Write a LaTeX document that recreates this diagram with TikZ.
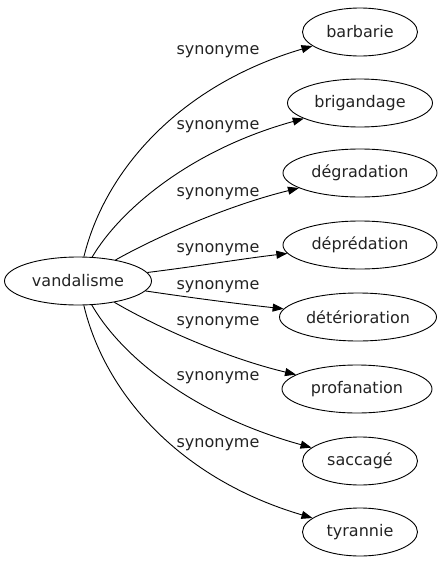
\documentclass[tikz,border=0pt]{standalone}
\usepackage{fontspec}
\setmainfont{DejaVu Sans}
\usetikzlibrary{shapes.geometric,arrows.meta}
\definecolor{txt}{RGB}{35,35,35}
\begin{document}
\begin{tikzpicture}[x=1pt,y=-1pt,
  word/.style={ellipse,draw=black,line width=0.9pt,inner sep=0pt,minimum height=48pt,text=txt,font=\fontsize{16pt}{18pt}\selectfont},
  rel/.style={line width=0.9pt,-{Triangle[length=11pt,width=8pt]}},
  lab/.style={text=txt,inner sep=0pt,font=\fontsize{16pt}{18pt}\selectfont}]
\useasboundingbox (0,0) rectangle (447,563);
\node[word,minimum width=147pt] (v) at (78,281) {vandalisme};
\node[word,minimum width=115pt] (n1) at (360,32) {barbarie};
\node[word,minimum width=145pt] (n2) at (360,103) {brigandage};
\node[word,minimum width=154pt] (n3) at (360,173) {dégradation};
\node[word,minimum width=154pt] (n4) at (360,245) {déprédation};
\node[word,minimum width=157pt] (n5) at (358,317) {détérioration};
\node[word,minimum width=150pt] (n6) at (357,389) {profanation};
\node[word,minimum width=115pt] (n7) at (360,461) {saccagé};
\node[word,minimum width=115pt] (n8) at (360,532) {tyrannie};
\draw[rel] (v) .. controls (105,170) and (180,85) .. (n1);
\draw[rel] (v) .. controls (120,210) and (190,150) .. (n2);
\draw[rel] (v) .. controls (160,235) and (230,205) .. (n3);
\draw[rel] (v) .. controls (200,266) and (240,259) .. (n4);
\draw[rel] (v) .. controls (200,299) and (240,304) .. (n5);
\draw[rel] (v) .. controls (160,329) and (230,359) .. (n6);
\draw[rel] (v) .. controls (120,354) and (190,414) .. (n7);
\draw[rel] (v) .. controls (105,394) and (180,479) .. (n8);
\node[lab] (l1) at (218,52) {synonyme};
\node[lab] (l2) at (218,127) {synonyme};
\node[lab] (l3) at (218,194) {synonyme};
\node[lab] (l4) at (218,250) {synonyme};
\node[lab] (l5) at (218,287) {synonyme};
\node[lab] (l6) at (218,323) {synonyme};
\node[lab] (l7) at (218,378) {synonyme};
\node[lab] (l8) at (218,445) {synonyme};
\end{tikzpicture}
\end{document}
